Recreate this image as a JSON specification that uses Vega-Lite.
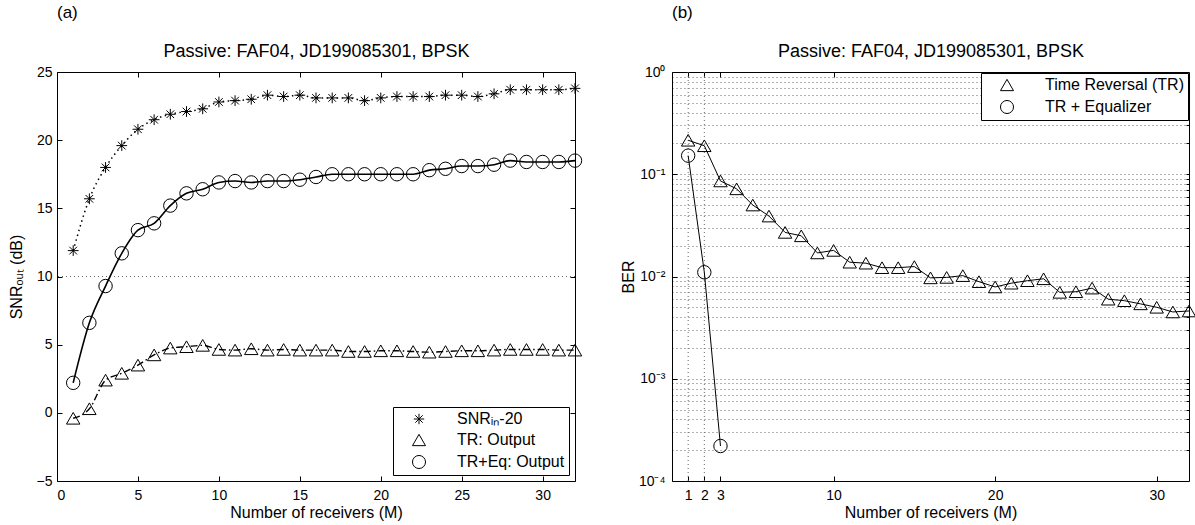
{
  "$schema": "https://vega.github.io/schema/vega-lite/v6.json",
  "background": "white",
  "padding": {"left": 8, "top": 3, "right": 8, "bottom": 4},
  "spacing": 36,
  "config": {
    "font": "Liberation Sans",
    "view": {"stroke": null},
    "axis": {
      "domainColor": "black", "domainWidth": 1,
      "tickColor": "black", "tickWidth": 1, "tickSize": -5,
      "labelColor": "black", "labelFontSize": 14, "labelPadding": 12,
      "titleColor": "black", "titleFontSize": 16, "titleFontWeight": "normal",
      "grid": false
    },
    "legend": {
      "strokeColor": "black", "fillColor": "white", "padding": 4, "cornerRadius": 0,
      "labelFontSize": 16, "labelColor": "black", "labelOffset": 30, "symbolOffset": 14,
      "symbolStrokeColor": "black", "symbolFillColor": "transparent", "symbolStrokeWidth": 1,
      "symbolSize": 170, "rowPadding": 5
    },
    "title": {"font": "Liberation Sans", "fontSize": 17, "fontWeight": "normal", "color": "black"}
  },
  "resolve": {
    "scale": {"x": "independent", "y": "independent", "shape": "independent"},
    "legend": {"shape": "independent"}
  },
  "hconcat": [
    {
      "width": 518,
      "height": 409,
      "title": {"text": "(a)", "anchor": "start", "frame": "group", "offset": 21},
      "data": {"values": [
        {"M": 1, "series": "SNRᵢₙ-20", "value": 11.9}, {"M": 2, "series": "SNRᵢₙ-20", "value": 15.7},
        {"M": 3, "series": "SNRᵢₙ-20", "value": 18.0}, {"M": 4, "series": "SNRᵢₙ-20", "value": 19.6},
        {"M": 5, "series": "SNRᵢₙ-20", "value": 20.8}, {"M": 6, "series": "SNRᵢₙ-20", "value": 21.5},
        {"M": 7, "series": "SNRᵢₙ-20", "value": 21.9}, {"M": 8, "series": "SNRᵢₙ-20", "value": 22.1},
        {"M": 9, "series": "SNRᵢₙ-20", "value": 22.3}, {"M": 10, "series": "SNRᵢₙ-20", "value": 22.8},
        {"M": 11, "series": "SNRᵢₙ-20", "value": 22.9}, {"M": 12, "series": "SNRᵢₙ-20", "value": 23.0},
        {"M": 13, "series": "SNRᵢₙ-20", "value": 23.3}, {"M": 14, "series": "SNRᵢₙ-20", "value": 23.2},
        {"M": 15, "series": "SNRᵢₙ-20", "value": 23.3}, {"M": 16, "series": "SNRᵢₙ-20", "value": 23.1},
        {"M": 17, "series": "SNRᵢₙ-20", "value": 23.1}, {"M": 18, "series": "SNRᵢₙ-20", "value": 23.1},
        {"M": 19, "series": "SNRᵢₙ-20", "value": 22.9}, {"M": 20, "series": "SNRᵢₙ-20", "value": 23.1},
        {"M": 21, "series": "SNRᵢₙ-20", "value": 23.2}, {"M": 22, "series": "SNRᵢₙ-20", "value": 23.2},
        {"M": 23, "series": "SNRᵢₙ-20", "value": 23.2}, {"M": 24, "series": "SNRᵢₙ-20", "value": 23.3},
        {"M": 25, "series": "SNRᵢₙ-20", "value": 23.3}, {"M": 26, "series": "SNRᵢₙ-20", "value": 23.2},
        {"M": 27, "series": "SNRᵢₙ-20", "value": 23.4}, {"M": 28, "series": "SNRᵢₙ-20", "value": 23.7},
        {"M": 29, "series": "SNRᵢₙ-20", "value": 23.7}, {"M": 30, "series": "SNRᵢₙ-20", "value": 23.7},
        {"M": 31, "series": "SNRᵢₙ-20", "value": 23.7}, {"M": 32, "series": "SNRᵢₙ-20", "value": 23.8},

        {"M": 1, "series": "TR: Output", "value": -0.4}, {"M": 2, "series": "TR: Output", "value": 0.3},
        {"M": 3, "series": "TR: Output", "value": 2.4}, {"M": 4, "series": "TR: Output", "value": 2.9},
        {"M": 5, "series": "TR: Output", "value": 3.5}, {"M": 6, "series": "TR: Output", "value": 4.25},
        {"M": 7, "series": "TR: Output", "value": 4.75}, {"M": 8, "series": "TR: Output", "value": 4.85},
        {"M": 9, "series": "TR: Output", "value": 4.95}, {"M": 10, "series": "TR: Output", "value": 4.65},
        {"M": 11, "series": "TR: Output", "value": 4.6}, {"M": 12, "series": "TR: Output", "value": 4.7},
        {"M": 13, "series": "TR: Output", "value": 4.6}, {"M": 14, "series": "TR: Output", "value": 4.65},
        {"M": 15, "series": "TR: Output", "value": 4.6}, {"M": 16, "series": "TR: Output", "value": 4.6},
        {"M": 17, "series": "TR: Output", "value": 4.6}, {"M": 18, "series": "TR: Output", "value": 4.5},
        {"M": 19, "series": "TR: Output", "value": 4.5}, {"M": 20, "series": "TR: Output", "value": 4.55},
        {"M": 21, "series": "TR: Output", "value": 4.55}, {"M": 22, "series": "TR: Output", "value": 4.5},
        {"M": 23, "series": "TR: Output", "value": 4.45}, {"M": 24, "series": "TR: Output", "value": 4.5},
        {"M": 25, "series": "TR: Output", "value": 4.55}, {"M": 26, "series": "TR: Output", "value": 4.55},
        {"M": 27, "series": "TR: Output", "value": 4.6}, {"M": 28, "series": "TR: Output", "value": 4.65},
        {"M": 29, "series": "TR: Output", "value": 4.65}, {"M": 30, "series": "TR: Output", "value": 4.65},
        {"M": 31, "series": "TR: Output", "value": 4.6}, {"M": 32, "series": "TR: Output", "value": 4.6},

        {"M": 1, "series": "TR+Eq: Output", "value": 2.2}, {"M": 2, "series": "TR+Eq: Output", "value": 6.6},
        {"M": 3, "series": "TR+Eq: Output", "value": 9.3}, {"M": 4, "series": "TR+Eq: Output", "value": 11.7},
        {"M": 5, "series": "TR+Eq: Output", "value": 13.4}, {"M": 6, "series": "TR+Eq: Output", "value": 13.9},
        {"M": 7, "series": "TR+Eq: Output", "value": 15.2}, {"M": 8, "series": "TR+Eq: Output", "value": 16.1},
        {"M": 9, "series": "TR+Eq: Output", "value": 16.4}, {"M": 10, "series": "TR+Eq: Output", "value": 16.9},
        {"M": 11, "series": "TR+Eq: Output", "value": 17.0}, {"M": 12, "series": "TR+Eq: Output", "value": 16.9},
        {"M": 13, "series": "TR+Eq: Output", "value": 17.0}, {"M": 14, "series": "TR+Eq: Output", "value": 17.0},
        {"M": 15, "series": "TR+Eq: Output", "value": 17.1}, {"M": 16, "series": "TR+Eq: Output", "value": 17.3},
        {"M": 17, "series": "TR+Eq: Output", "value": 17.5}, {"M": 18, "series": "TR+Eq: Output", "value": 17.5},
        {"M": 19, "series": "TR+Eq: Output", "value": 17.5}, {"M": 20, "series": "TR+Eq: Output", "value": 17.5},
        {"M": 21, "series": "TR+Eq: Output", "value": 17.5}, {"M": 22, "series": "TR+Eq: Output", "value": 17.5},
        {"M": 23, "series": "TR+Eq: Output", "value": 17.8}, {"M": 24, "series": "TR+Eq: Output", "value": 17.9},
        {"M": 25, "series": "TR+Eq: Output", "value": 18.1}, {"M": 26, "series": "TR+Eq: Output", "value": 18.1},
        {"M": 27, "series": "TR+Eq: Output", "value": 18.2}, {"M": 28, "series": "TR+Eq: Output", "value": 18.5},
        {"M": 29, "series": "TR+Eq: Output", "value": 18.4}, {"M": 30, "series": "TR+Eq: Output", "value": 18.4},
        {"M": 31, "series": "TR+Eq: Output", "value": 18.4}, {"M": 32, "series": "TR+Eq: Output", "value": 18.5}
      ]},
      "resolve": {"axis": {"x": "independent", "y": "independent"}},
      "layer": [
        {
          "data": {"values": [{}]},
          "mark": {"type": "rule", "color": "#666", "strokeWidth": 1, "strokeDash": [1, 3]},
          "encoding": {"y": {"datum": 10, "type": "quantitative", "axis": null}}
        },
        {
          "transform": [{"filter": "datum.series === 'SNRᵢₙ-20'"}],
          "mark": {"type": "line", "color": "black", "strokeWidth": 1.5, "strokeDash": [1.5, 3.5], "interpolate": "monotone"},
          "encoding": {
            "x": {"field": "M", "type": "quantitative",
                  "scale": {"domain": [0, 32], "nice": false},
                  "axis": {"orient": "top", "labels": false, "values": [0, 5, 10, 15, 20, 25, 30],
                           "title": "Passive: FAF04, JD199085301, BPSK", "titleFontSize": 18, "titlePadding": 11}},
            "y": {"field": "value", "type": "quantitative",
                  "scale": {"domain": [-5, 25], "nice": false},
                  "axis": {"orient": "right", "labels": false, "title": null, "values": [-5, 0, 5, 10, 15, 20, 25]}}
          }
        },
        {
          "transform": [{"filter": "datum.series === 'TR: Output'"}],
          "mark": {"type": "line", "color": "black", "strokeWidth": 1.4, "strokeDash": [7, 3, 1.5, 3], "interpolate": "monotone"},
          "encoding": {
            "x": {"field": "M", "type": "quantitative", "axis": null},
            "y": {"field": "value", "type": "quantitative", "axis": null}
          }
        },
        {
          "transform": [{"filter": "datum.series === 'TR+Eq: Output'"}],
          "mark": {"type": "line", "color": "black", "strokeWidth": 1.6, "interpolate": "monotone"},
          "encoding": {
            "x": {"field": "M", "type": "quantitative", "axis": null},
            "y": {"field": "value", "type": "quantitative", "axis": null}
          }
        },
        {
          "mark": {"type": "point", "filled": false, "color": "black", "strokeWidth": 1, "opacity": 1, "size": 180},
          "encoding": {
            "x": {"field": "M", "type": "quantitative",
                  "axis": {"orient": "bottom", "values": [0, 5, 10, 15, 20, 25, 30],
                           "title": "Number of receivers (M)", "titlePadding": 2}},
            "y": {"field": "value", "type": "quantitative",
                  "axis": {"orient": "left", "values": [-5, 0, 5, 10, 15, 20, 25], "labelPadding": 10,
                           "title": "SNRₒᵤₜ (dB)", "titlePadding": 6, "minExtent": 27, "maxExtent": 27}},
            "shape": {"field": "series", "type": "nominal",
                      "scale": {"domain": ["SNRᵢₙ-20", "TR: Output", "TR+Eq: Output"],
                                "range": ["M-0.8,0L0.8,0M0,-0.8L0,0.8M-0.57,-0.57L0.57,0.57M-0.57,0.57L0.57,-0.57", "triangle-up", "circle"]},
                      "legend": {"orient": "bottom-right", "title": null, "offset": 6}}
          }
        }
      ]
    },
    {
      "width": 517,
      "height": 409,
      "title": {"text": "(b)", "anchor": "start", "frame": "group", "offset": 21},
      "data": {"values": [
        {"M": 1, "series": "Time Reversal (TR)", "ber": 0.215}, {"M": 2, "series": "Time Reversal (TR)", "ber": 0.19},
        {"M": 3, "series": "Time Reversal (TR)", "ber": 0.086}, {"M": 4, "series": "Time Reversal (TR)", "ber": 0.072},
        {"M": 5, "series": "Time Reversal (TR)", "ber": 0.05}, {"M": 6, "series": "Time Reversal (TR)", "ber": 0.039},
        {"M": 7, "series": "Time Reversal (TR)", "ber": 0.027}, {"M": 8, "series": "Time Reversal (TR)", "ber": 0.025},
        {"M": 9, "series": "Time Reversal (TR)", "ber": 0.017}, {"M": 10, "series": "Time Reversal (TR)", "ber": 0.018},
        {"M": 11, "series": "Time Reversal (TR)", "ber": 0.0138}, {"M": 12, "series": "Time Reversal (TR)", "ber": 0.0135},
        {"M": 13, "series": "Time Reversal (TR)", "ber": 0.0122}, {"M": 14, "series": "Time Reversal (TR)", "ber": 0.0122},
        {"M": 15, "series": "Time Reversal (TR)", "ber": 0.0125}, {"M": 16, "series": "Time Reversal (TR)", "ber": 0.0097},
        {"M": 17, "series": "Time Reversal (TR)", "ber": 0.0098}, {"M": 18, "series": "Time Reversal (TR)", "ber": 0.0102},
        {"M": 19, "series": "Time Reversal (TR)", "ber": 0.0089}, {"M": 20, "series": "Time Reversal (TR)", "ber": 0.0079},
        {"M": 21, "series": "Time Reversal (TR)", "ber": 0.0086}, {"M": 22, "series": "Time Reversal (TR)", "ber": 0.0091},
        {"M": 23, "series": "Time Reversal (TR)", "ber": 0.0095}, {"M": 24, "series": "Time Reversal (TR)", "ber": 0.007},
        {"M": 25, "series": "Time Reversal (TR)", "ber": 0.0071}, {"M": 26, "series": "Time Reversal (TR)", "ber": 0.0077},
        {"M": 27, "series": "Time Reversal (TR)", "ber": 0.006}, {"M": 28, "series": "Time Reversal (TR)", "ber": 0.0058},
        {"M": 29, "series": "Time Reversal (TR)", "ber": 0.0054}, {"M": 30, "series": "Time Reversal (TR)", "ber": 0.005},
        {"M": 31, "series": "Time Reversal (TR)", "ber": 0.0045}, {"M": 32, "series": "Time Reversal (TR)", "ber": 0.0046},
        {"M": 1, "series": "TR + Equalizer", "ber": 0.152}, {"M": 2, "series": "TR + Equalizer", "ber": 0.011},
        {"M": 3, "series": "TR + Equalizer", "ber": 0.00022}
      ]},
      "resolve": {"axis": {"x": "independent", "y": "independent"}},
      "layer": [
        {
          "data": {"values": [{"M": 1}, {"M": 2}]},
          "mark": {"type": "rule", "color": "#666", "strokeWidth": 1, "strokeDash": [1, 3]},
          "encoding": {"x": {"field": "M", "type": "quantitative", "axis": null}}
        },
        {
          "mark": {"type": "line", "color": "black", "strokeWidth": 1},
          "encoding": {
            "x": {"field": "M", "type": "quantitative",
                  "scale": {"domain": [0, 32], "nice": false},
                  "axis": {"orient": "top", "labels": false, "values": [1, 2, 3, 10, 20, 30],
                           "title": "Passive: FAF04, JD199085301, BPSK", "titleFontSize": 18, "titlePadding": 11}},
            "y": {"field": "ber", "type": "quantitative",
                  "scale": {"type": "log", "domain": [0.0001, 1], "nice": false},
                  "axis": {"orient": "right", "labels": false, "title": null, "tickSize": -3,
                           "grid": true, "gridColor": "#666", "gridDash": [1, 3], "gridWidth": 1,
                           "values": [0.0002, 0.0003, 0.0004, 0.0005, 0.0006, 0.0007, 0.0008, 0.0009, 0.001,
                                      0.002, 0.003, 0.004, 0.005, 0.006, 0.007, 0.008, 0.009, 0.01,
                                      0.02, 0.03, 0.04, 0.05, 0.06, 0.07, 0.08, 0.09, 0.1,
                                      0.2, 0.3, 0.4, 0.5, 0.6, 0.7, 0.8, 0.9]}},
            "detail": {"field": "series"}
          }
        },
        {
          "mark": {"type": "point", "filled": false, "color": "black", "strokeWidth": 1, "opacity": 1, "size": 180},
          "encoding": {
            "x": {"field": "M", "type": "quantitative",
                  "axis": {"orient": "bottom", "values": [1, 2, 3, 10, 20, 30],
                           "title": "Number of receivers (M)", "titlePadding": 2}},
            "y": {"field": "ber", "type": "quantitative",
                  "axis": {"orient": "left", "values": [0.0001, 0.001, 0.01, 0.1, 1],
                           "labelExpr": "datum.value > 0.5 ? '10⁰' : datum.value > 0.05 ? '10⁻¹' : datum.value > 0.005 ? '10⁻²' : datum.value > 0.0005 ? '10⁻³' : '10⁻⁴'",
                           "title": "BER", "titlePadding": 2, "minExtent": 34, "maxExtent": 34}},
            "shape": {"field": "series", "type": "nominal",
                      "scale": {"domain": ["Time Reversal (TR)", "TR + Equalizer"], "range": ["triangle-up", "circle"]},
                      "legend": {"orient": "top-right", "title": null, "offset": 1}}
          }
        }
      ]
    }
  ]
}
